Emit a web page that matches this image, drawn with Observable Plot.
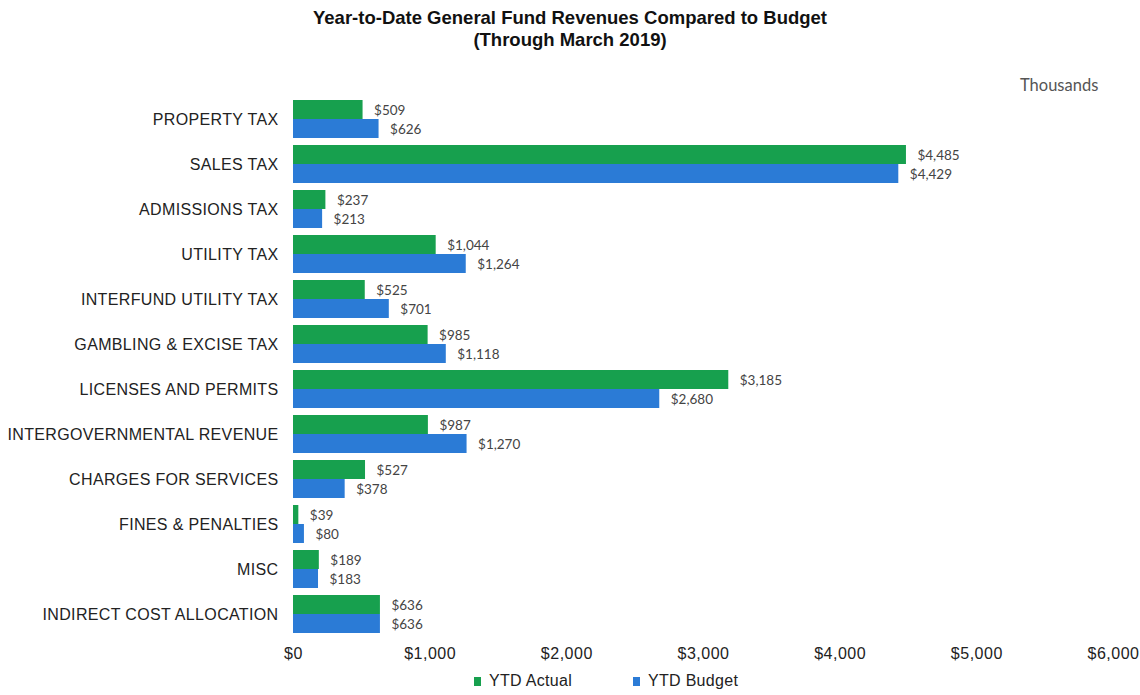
<!DOCTYPE html>
<html>
<head>
<meta charset="utf-8">
<script src="https://cdn.jsdelivr.net/npm/d3@7"></script>
<script src="https://cdn.jsdelivr.net/npm/@observablehq/plot@0.6"></script>
<style>
  html, body { margin: 0; padding: 0; background: #fff; }
  #wrap { position: relative; width: 1140px; height: 695px; overflow: hidden; }
  #title { position: absolute; left: 0; top: 7px; width: 1140px; text-align: center;
    font-family: "Liberation Sans", Arial, sans-serif; font-weight: bold; font-size: 18.5px; line-height: 22px; color: #111; }
  #units { position: absolute; left: 1020px; top: 75px; font-family: Lato, sans-serif; font-size: 16.5px; color: #555; }
  #legend { position: absolute; left: 0; top: 672px; width: 1140px; font-family: "Liberation Sans", Arial, sans-serif; font-size: 16px; color: #222; }
  .li { position: absolute; top: 0; white-space: nowrap; letter-spacing: 0.3px; }
  .sw { display: inline-block; width: 7px; height: 9px; margin-right: 8px; vertical-align: 0px; }
  #chart svg g[aria-label="fy-axis tick label"] text { font-size: 16px; letter-spacing: 0.35px; }
  #chart svg g[aria-label="x-axis tick label"] text { font-size: 16px; letter-spacing: 0.5px; }
</style>
</head>
<body>
<div id="wrap">
  <div id="title">Year-to-Date General Fund Revenues Compared to Budget<br>(Through March 2019)</div>
  <div id="units">Thousands</div>
  <div id="chart"></div>
  <div id="legend"></div>
</div>
<script>
const categories = ["PROPERTY TAX","SALES TAX","ADMISSIONS TAX","UTILITY TAX","INTERFUND UTILITY TAX","GAMBLING & EXCISE TAX","LICENSES AND PERMITS","INTERGOVERNMENTAL REVENUE","CHARGES FOR SERVICES","FINES & PENALTIES","MISC","INDIRECT COST ALLOCATION"];
const seriesNames = ["YTD Actual","YTD Budget"];
const ytdActual = [509,4485,237,1044,525,985,3185,987,527,39,189,636];
const ytdBudget = [626,4429,213,1264,701,1118,2680,1270,378,80,183,636];
const xTicks = [0,1000,2000,3000,4000,5000,6000];
const colors = ["#17a04e","#2b7bd6"];

const data = [];
categories.forEach((c,i) => {
  data.push({category:c, series:seriesNames[0], value:ytdActual[i]});
  data.push({category:c, series:seriesNames[1], value:ytdBudget[i]});
});
const money = v => "$" + d3.format(",")(v);

const chart = Plot.plot({
  width: 1140, height: 695,
  marginLeft: 293, marginRight: 27, marginTop: 97, marginBottom: 58,
  style: {fontFamily: "'Liberation Sans', Arial, sans-serif", fontSize: "16px", color: "#222", background: "transparent"},
  x: {domain: [0,6000], ticks: xTicks, tickFormat: money, tickSize: 0, tickPadding: 14, label: null},
  fy: {domain: categories, padding: 0.15, label: null, tickSize: 0, tickPadding: 15, axis: "left"},
  y: {domain: seriesNames, axis: null, padding: 0},
  color: {domain: seriesNames, range: colors},
  marks: [
    Plot.barX(data, {x: "value", y: "series", fy: "category", fill: "series"}),
    Plot.text(data, {x: "value", y: "series", fy: "category", text: d => money(d.value), textAnchor: "start", dx: 11, dy: 1, fontFamily: "Lato, sans-serif", fontSize: 13.5, fill: "#444"})
  ]
});
document.getElementById("chart").appendChild(chart);

const legend = document.getElementById("legend");
const legendX = [474, 633];
seriesNames.forEach((s,i) => {
  const el = document.createElement("div");
  el.className = "li";
  el.style.left = legendX[i] + "px";
  el.innerHTML = `<span class="sw" style="background:${colors[i]}"></span>${s}`;
  legend.appendChild(el);
});
</script>
</body>
</html>
